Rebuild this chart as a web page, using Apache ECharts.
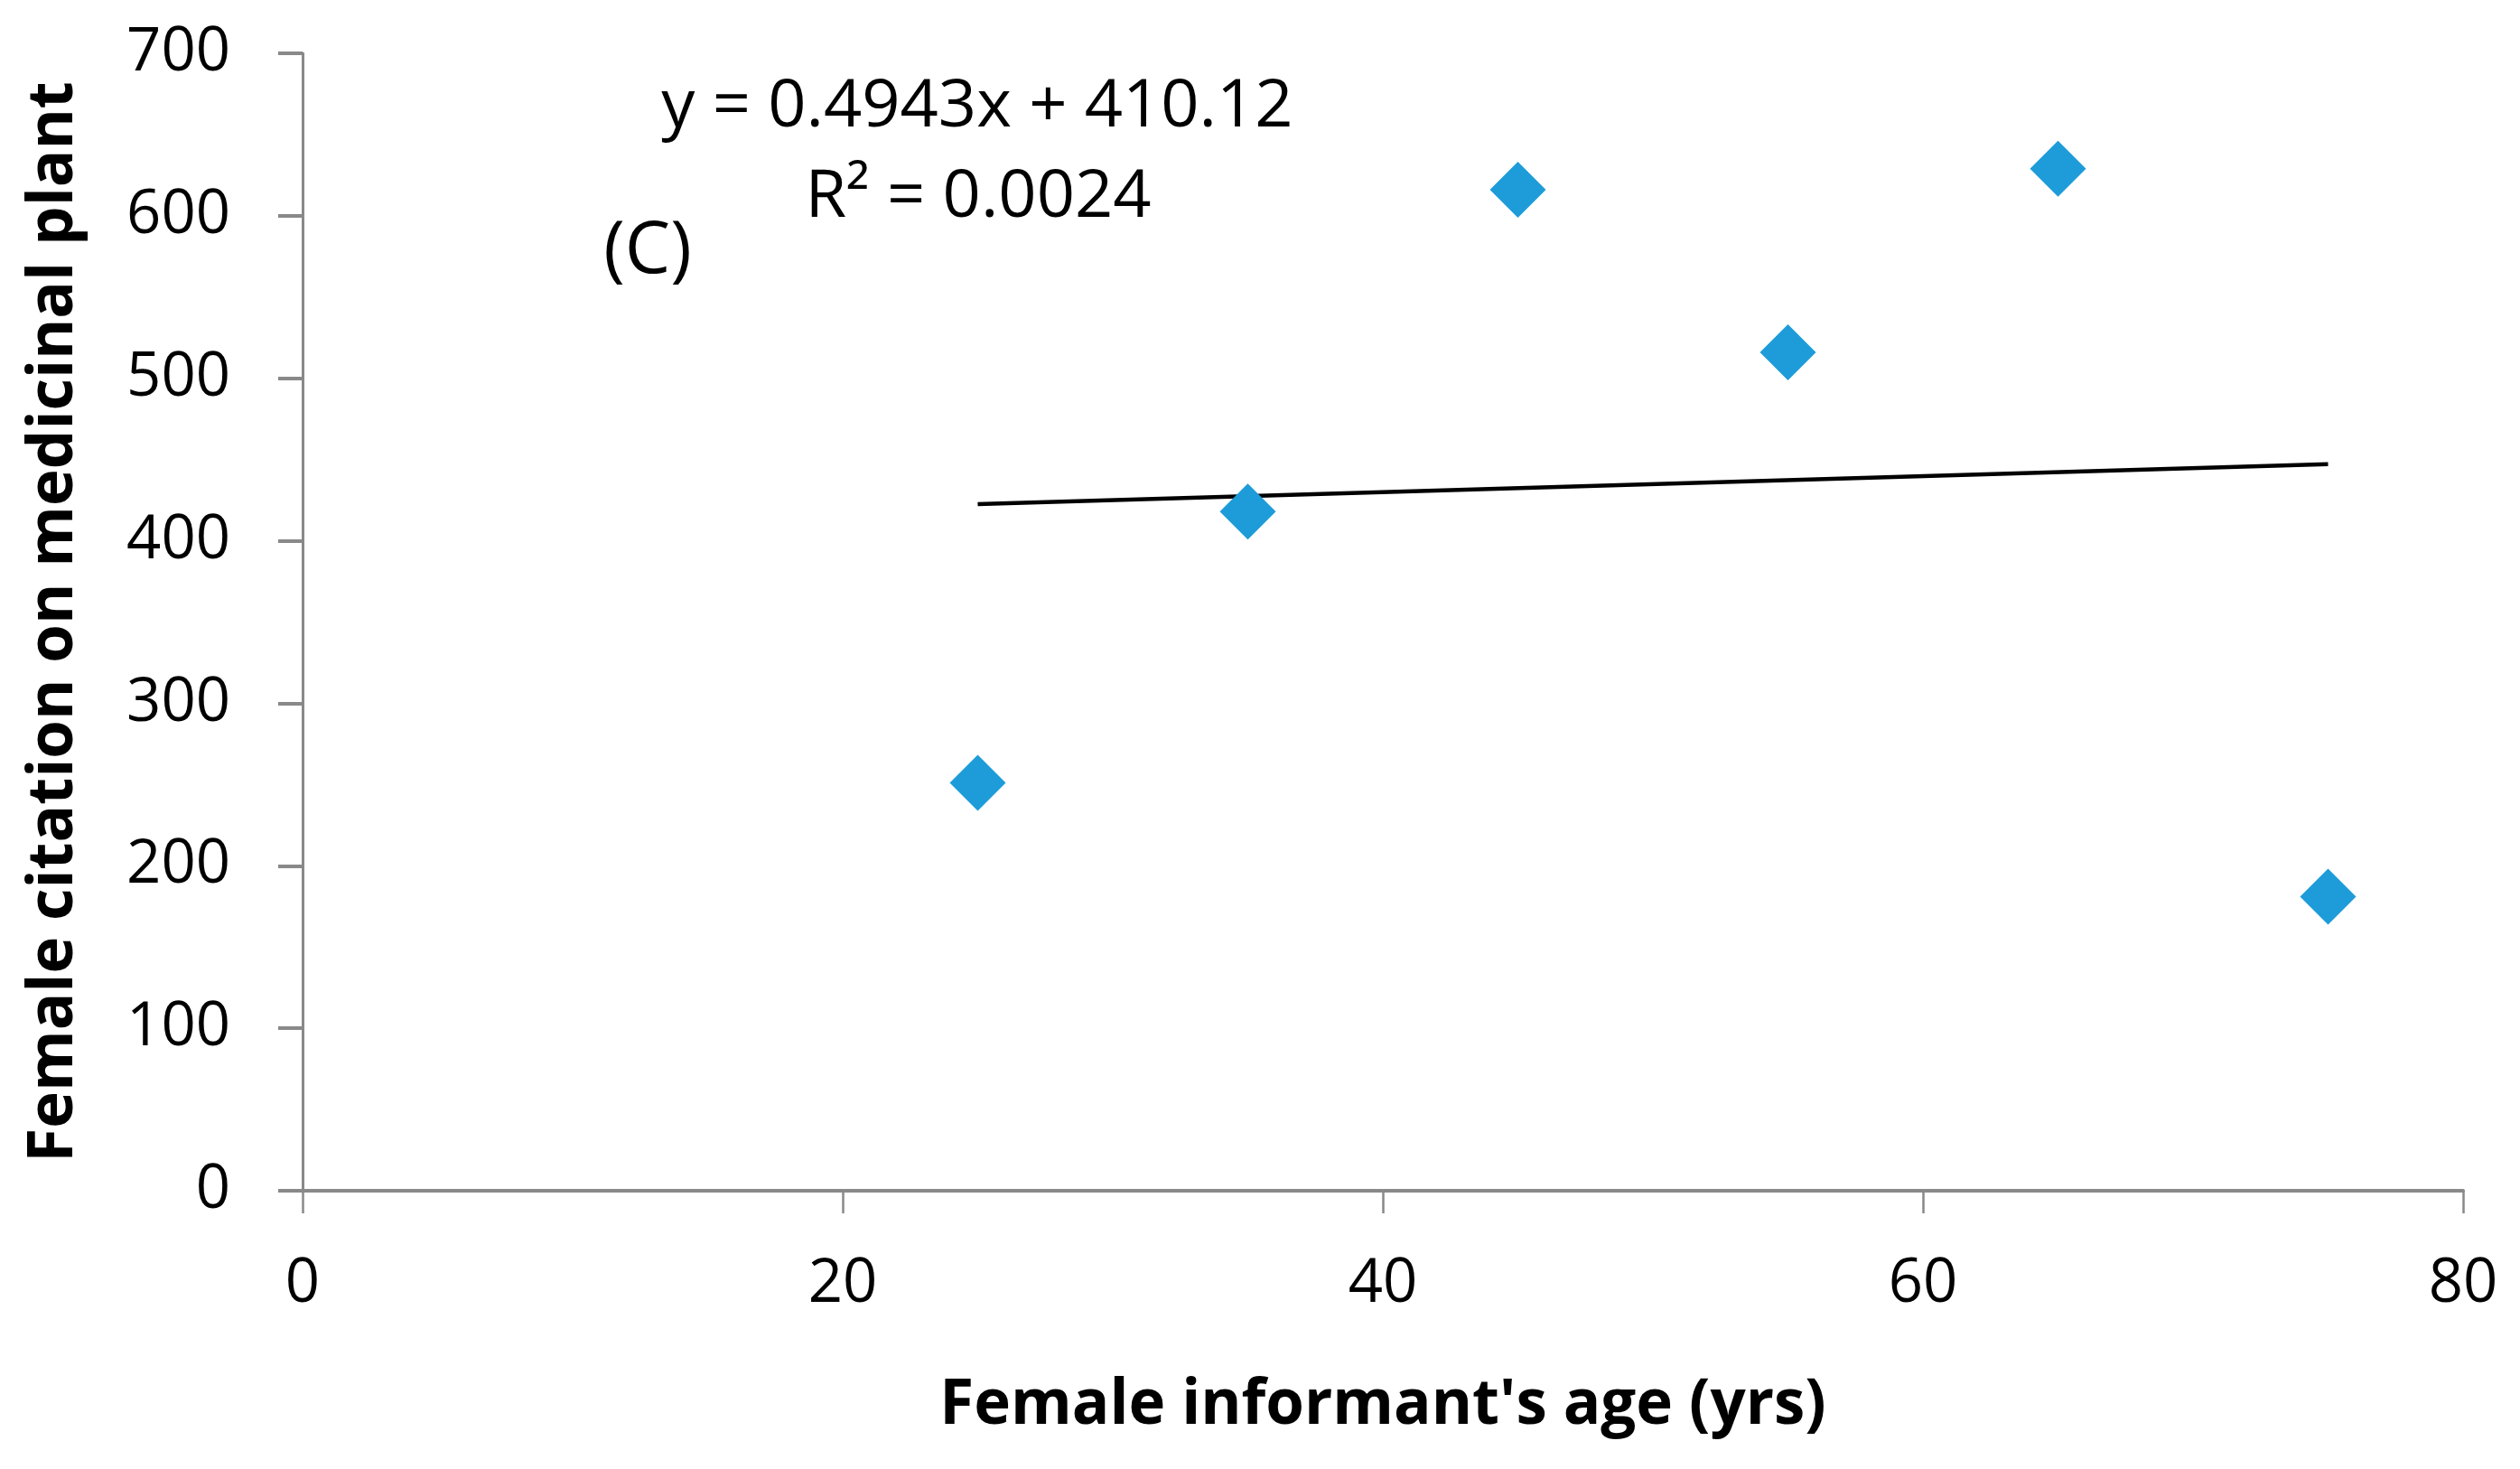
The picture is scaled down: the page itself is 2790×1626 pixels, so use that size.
<!DOCTYPE html>
<html>
<head>
<meta charset="utf-8">
<script src="https://cdn.jsdelivr.net/npm/echarts@6/dist/echarts.min.js"></script>
<style>
html,body{margin:0;padding:0;background:#fff;}
#chart{width:2790px;height:1626px;}
</style>
</head>
<body>
<div id="chart"></div>
<script>
// Data
const ages = [25, 35, 45, 55, 65, 75];
const citations = [251, 418, 616, 516, 629, 181];
const trendX = [25, 75];
const trendY = [422.5, 447.2];
const xTicks = [0, 20, 40, 60, 80];
const yTicks = [0, 100, 200, 300, 400, 500, 600, 700];
const equationText = 'y = 0.4943x + 410.12';
const r2Text = 'R² = 0.0024';
const panelText = '(C)';
const xTitle = "Female informant's age (yrs)";
const yTitle = 'Female citation on medicinal plant';

const FONT = '"Open Sans", "Noto Sans", sans-serif';
const AXIS_COLOR = '#898989';

const chart = echarts.init(document.getElementById('chart'));
const option = {
  animation: false,
  backgroundColor: '#ffffff',
  grid: { left: 335, right: 63, top: 59, bottom: 308, containLabel: false },
  xAxis: {
    type: 'value',
    min: xTicks[0], max: xTicks[xTicks.length - 1], interval: 20,
    name: xTitle, nameLocation: 'middle', nameGap: 204,
    nameTextStyle: { fontFamily: FONT, fontWeight: 'bold', fontSize: 69, color: '#000' },
    axisLine: { show: true, lineStyle: { color: AXIS_COLOR, width: 4 } },
    axisTick: { show: true, inside: false, length: 25, lineStyle: { color: AXIS_COLOR, width: 2.5 } },
    axisLabel: { fontFamily: FONT, fontSize: 67, color: '#000', margin: 70 },
    splitLine: { show: false }
  },
  yAxis: {
    type: 'value',
    min: yTicks[0], max: yTicks[yTicks.length - 1], interval: 100,
    name: yTitle, nameLocation: 'middle', nameGap: 240, nameRotate: 90,
    nameTextStyle: { fontFamily: FONT, fontWeight: 'bold', fontSize: 69, color: '#000' },
    axisLine: { show: true, lineStyle: { color: AXIS_COLOR, width: 3 } },
    axisTick: { show: true, inside: false, length: 27, lineStyle: { color: AXIS_COLOR, width: 4 } },
    axisLabel: { fontFamily: FONT, fontSize: 67, color: '#000', margin: 80 },
    splitLine: { show: false }
  },
  series: [
    {
      type: 'line',
      data: trendX.map((x, i) => [x, trendY[i]]),
      symbol: 'none',
      lineStyle: { color: '#000', width: 4.5 },
      z: 2
    },
    {
      type: 'scatter',
      data: ages.map((x, i) => [x, citations[i]]),
      symbol: 'diamond',
      symbolSize: 62,
      itemStyle: { color: '#1D9CD9', opacity: 1 },
      z: 3
    }
  ],
  graphic: [
    { type: 'text', x: 1082, y: 119, style: { text: equationText, font: '74px ' + FONT, fill: '#000', align: 'center', verticalAlign: 'middle' } },
    { type: 'text', x: 1083, y: 219, style: { text: r2Text, font: '74px ' + FONT, fill: '#000', align: 'center', verticalAlign: 'middle' } },
    { type: 'text', x: 717, y: 279, style: { text: panelText, font: '80px ' + FONT, fill: '#000', align: 'center', verticalAlign: 'middle' } }
  ]
};
chart.setOption(option);
</script>
</body>
</html>
